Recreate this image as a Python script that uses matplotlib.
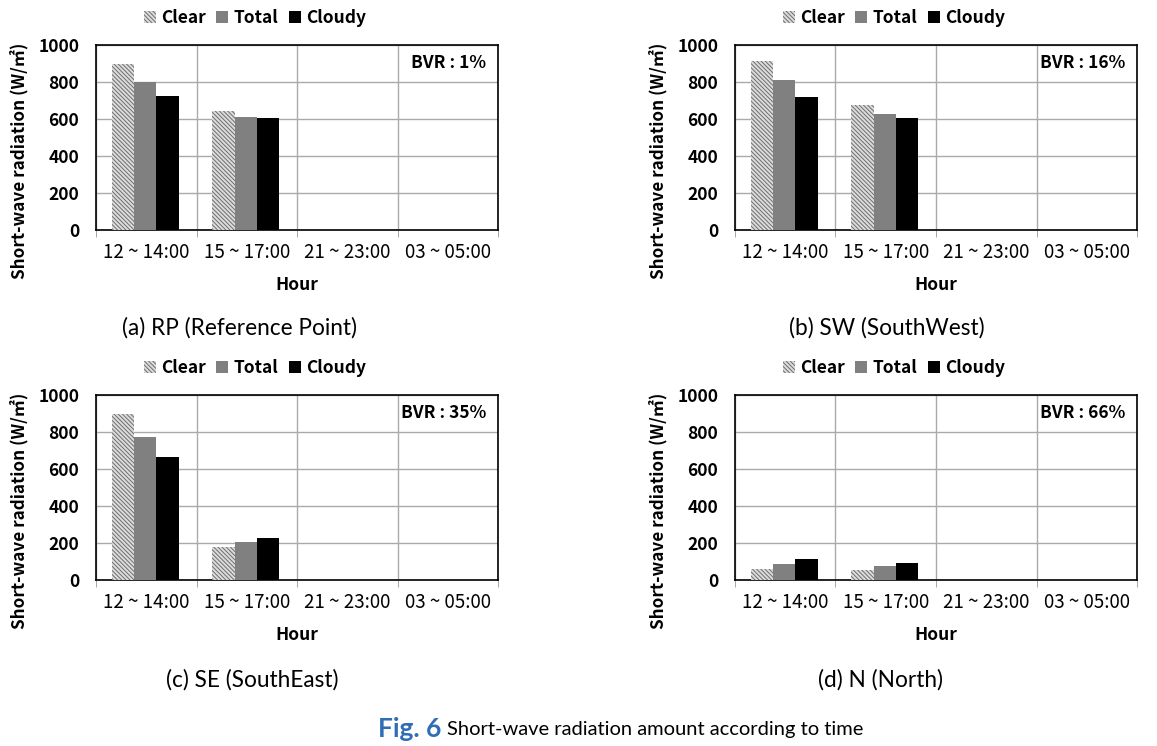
import numpy as np
import matplotlib.pyplot as plt
from matplotlib.patches import Patch

plt.rcParams['font.family'] = ['Noto Sans CJK KR', 'DejaVu Sans']
plt.rcParams['hatch.linewidth'] = 0.7

hours = ['12 ~ 14:00', '15 ~ 17:00', '21 ~ 23:00', '03 ~ 05:00']
series = ['Clear', 'Total', 'Cloudy']

rp_clear = [896, 643, 0, 0]
rp_total = [802, 612, 0, 0]
rp_cloudy = [724, 604, 0, 0]

sw_clear = [915, 678, 0, 0]
sw_total = [810, 628, 0, 0]
sw_cloudy = [718, 607, 0, 0]

se_clear = [897, 180, 0, 0]
se_total = [771, 207, 0, 0]
se_cloudy = [663, 229, 0, 0]

n_clear = [59, 54, 0, 0]
n_total = [88, 76, 0, 0]
n_cloudy = [115, 92, 0, 0]

bvr = ['1%', '16%', '35%', '66%']
captions = ['(a) RP (Reference Point)', '(b) SW (SouthWest)',
            '(c) SE (SouthEast)', '(d) N (North)']

panels = [(rp_clear, rp_total, rp_cloudy), (sw_clear, sw_total, sw_cloudy),
          (se_clear, se_total, se_cloudy), (n_clear, n_total, n_cloudy)]

W, H = 1157, 746
fig = plt.figure(figsize=(W / 100, H / 100), dpi=100)

# axes boxes in pixels: left, top, right, bottom
boxes = [(96, 45, 498, 230), (735, 45, 1137, 230),
         (96, 395, 498, 580), (735, 395, 1137, 580)]
cap_pos = [(240, 328), (887, 328), (252, 680), (880, 680)]

styles = [dict(facecolor='#dcdcdc', edgecolor='#6e6e6e', hatch='\\\\\\\\\\\\\\\\'),
          dict(facecolor='#808080', edgecolor='#808080'),
          dict(facecolor='black', edgecolor='black')]

x = np.arange(len(hours))
bw = 0.222
for i, (vals, box) in enumerate(zip(panels, boxes)):
    l, t, r, b = box
    ax = fig.add_axes([l / W, 1 - b / H, (r - l) / W, (b - t) / H])
    for j, v in enumerate(vals):
        ax.bar(x + (j - 1) * bw - 0.01, v, bw, linewidth=0, zorder=3, **styles[j])
    ax.set_xlim(-0.5, 3.5)
    ax.set_ylim(0, 1000)
    ax.set_yticks(range(0, 1001, 200))
    ax.set_xticks(x)
    ax.set_xticklabels(hours, fontsize=13.5)
    ax.set_xticks(np.arange(-0.5, 4, 1), minor=True)
    ax.tick_params(axis='x', which='major', length=0, pad=9)
    ax.tick_params(axis='x', which='minor', length=5, color='#999999')
    ax.tick_params(axis='y', length=0, pad=12, labelsize=12.5)
    for lab in ax.get_yticklabels():
        lab.set_fontweight('bold')
    ax.grid(axis='y', color='#aaaaaa', linewidth=1, zorder=0)
    ax.grid(axis='x', which='minor', color='#aaaaaa', linewidth=1, zorder=0)
    for s in ax.spines.values():
        s.set_color('black')
        s.set_linewidth(1.2)
    ax.set_xlabel('Hour', fontsize=12.5, fontweight='bold', labelpad=9)
    ax.set_ylabel('Short-wave radiation (W/㎡)', fontsize=12.3, fontweight='bold')
    ax.yaxis.set_label_coords(-0.168, 0.373)
    ax.text(0.97, 0.9, 'BVR : ' + bvr[i], transform=ax.transAxes, ha='right', va='center',
            fontsize=12.5, fontweight='bold')
    handles = [Patch(linewidth=0, **styles[j]) for j in range(3)]
    ax.legend(handles, series, loc='lower center', bbox_to_anchor=(0.395, 1.06), ncol=3,
              frameon=False, handlelength=0.7, handleheight=0.7,
              handletextpad=0.3, columnspacing=0.6, borderaxespad=0,
              prop={'weight': 'bold', 'size': 12.5})
    cx, cy = cap_pos[i]
    fig.text(cx / W, 1 - cy / H, captions[i], ha='center', va='center', fontsize=16.3,
             family='Lato')

fig.text(441 / W, 1 - 729 / H, 'Fig. 6', ha='right', va='center', fontsize=19,
         fontweight='bold', color='#2f6eb5', family='Lato')
fig.text(447 / W, 1 - 729 / H, 'Short-wave radiation amount according to time',
         ha='left', va='center', fontsize=14.5, family='Lato')

fig.savefig('out.png', dpi=100)
